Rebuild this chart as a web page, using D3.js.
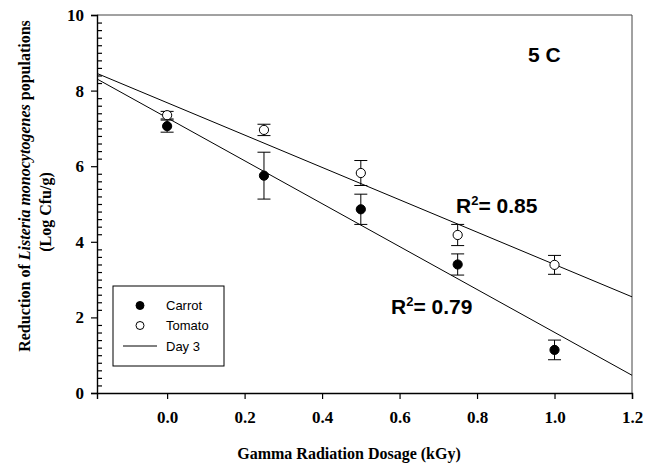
<!DOCTYPE html>
<html>
<head>
<meta charset="utf-8">
<script src="https://cdn.jsdelivr.net/npm/d3@7"></script>
<style>
  body { margin: 0; background: #fff; }
  svg { display: block; }
</style>
</head>
<body>
<svg id="chart" width="656" height="471"></svg>
<script>
// Data
var doses = [0, 0.25, 0.5, 0.75, 1.0];
var carrot = [7.06, 5.75, 4.86, 3.40, 1.14];
var carrotErr = [0.16, 0.62, 0.40, 0.28, 0.26];
var tomato = [7.35, 6.96, 5.82, 4.18, 3.39];
var tomatoErr = [0.10, 0.15, 0.33, 0.28, 0.25];
var xTicks = [0, 0.2, 0.4, 0.6, 0.8, 1.0, 1.2];
var yTicks = [0, 2, 4, 6, 8, 10];
var legendLabels = ["Carrot", "Tomato", "Day 3"];

var w = 656, h = 471;
var margin = { left: 97, right: 24, top: 15, bottom: 78 };

var svg = d3.select("#chart");
var serif = "'Liberation Serif', 'Times New Roman', serif";
var sans = "'Liberation Sans', Arial, sans-serif";

var xScale = d3.scaleLinear()
    .domain([-0.181, 1.2])
    .range([margin.left, w - margin.right]);

var yScale = d3.scaleLinear()
    .domain([0, 10])
    .range([h - margin.bottom, margin.top]);

// simple least squares fit
function fit(xs, ys) {
    var mx = d3.mean(xs), my = d3.mean(ys);
    var num = d3.sum(xs, function (x, i) { return (x - mx) * (ys[i] - my); });
    var den = d3.sum(xs, function (x) { return (x - mx) * (x - mx); });
    var b = num / den;
    return { a: my - b * mx, b: b };
}

// frame (top and right)
svg.append("path")
    .attr("d", "M" + xScale(-0.181) + "," + yScale(10) + "H" + xScale(1.2) + "V" + yScale(0))
    .attr("fill", "none")
    .attr("stroke", "#444")
    .attr("stroke-width", 1);

// y axis, major ticks outward, minor ticks inward
svg.append("g")
    .attr("transform", "translate(" + margin.left + ",0)")
    .call(d3.axisLeft(yScale).tickValues(yTicks).tickSize(6).tickPadding(7).tickFormat(d3.format("d")));

var minor = d3.range(0, 10.01, 0.2).filter(function (v) { return Math.abs(v / 2 - Math.round(v / 2)) > 0.01; });
svg.append("g")
    .attr("transform", "translate(" + margin.left + ",0)")
    .call(d3.axisRight(yScale).tickValues(minor).tickSize(5).tickFormat(""))
    .call(function (g) { g.select(".domain").remove(); });

svg.append("g")
    .attr("transform", "translate(0," + (h - margin.bottom) + ")")
    .call(d3.axisBottom(xScale).tickValues(xTicks).tickSize(6).tickPadding(12).tickFormat(d3.format(".1f")));

svg.selectAll(".domain").attr("stroke", "#000").attr("stroke-width", 1.4);
svg.selectAll(".tick line").attr("stroke", "#000").attr("stroke-width", 1.2);
svg.selectAll(".tick text")
    .attr("font-family", serif)
    .attr("font-weight", "bold")
    .attr("font-size", 17)
    .attr("fill", "#000");

// regression lines
var line = d3.line()
    .x(function (d) { return xScale(d[0]); })
    .y(function (d) { return yScale(d[1]); });

[carrot, tomato].forEach(function (ys) {
    var f = fit(doses, ys);
    var ends = xScale.domain().map(function (x) { return [x, f.a + f.b * x]; });
    svg.append("path")
        .attr("d", line(ends))
        .attr("fill", "none")
        .attr("stroke", "#000")
        .attr("stroke-width", 1);
});

// error bars + markers
function drawSeries(vals, errs, fill) {
    var g = svg.append("g");
    var pts = doses.map(function (x, i) { return { x: x, y: vals[i], e: errs[i] }; });
    var bars = g.selectAll(".err").data(pts).enter().append("g").attr("class", "err");
    bars.append("line")
        .attr("x1", function (d) { return xScale(d.x); })
        .attr("x2", function (d) { return xScale(d.x); })
        .attr("y1", function (d) { return yScale(d.y + d.e); })
        .attr("y2", function (d) { return yScale(d.y - d.e); });
    bars.append("line")
        .attr("x1", function (d) { return xScale(d.x) - 6.5; })
        .attr("x2", function (d) { return xScale(d.x) + 6.5; })
        .attr("y1", function (d) { return yScale(d.y + d.e); })
        .attr("y2", function (d) { return yScale(d.y + d.e); });
    bars.append("line")
        .attr("x1", function (d) { return xScale(d.x) - 6.5; })
        .attr("x2", function (d) { return xScale(d.x) + 6.5; })
        .attr("y1", function (d) { return yScale(d.y - d.e); })
        .attr("y2", function (d) { return yScale(d.y - d.e); });
    bars.selectAll("line").attr("stroke", "#000").attr("stroke-width", 1);
    g.selectAll("circle").data(pts).enter().append("circle")
        .attr("cx", function (d) { return xScale(d.x); })
        .attr("cy", function (d) { return yScale(d.y); })
        .attr("r", 4.6)
        .attr("fill", fill)
        .attr("stroke", "#000")
        .attr("stroke-width", 1);
}
drawSeries(tomato, tomatoErr, "#fff");
drawSeries(carrot, carrotErr, "#000");

// annotations
svg.append("text")
    .attr("x", 528).attr("y", 62)
    .attr("font-family", sans).attr("font-weight", "bold").attr("font-size", 21)
    .text("5 C");

function r2Label(x, y, val) {
    var t = svg.append("text")
        .attr("x", x).attr("y", y)
        .attr("font-family", sans).attr("font-weight", "bold").attr("font-size", 21);
    t.append("tspan").text("R");
    t.append("tspan").attr("font-size", 13).attr("dy", -8).text("2");
    t.append("tspan").attr("dy", 8).text("= " + val);
}
r2Label(456, 213, "0.85");
r2Label(391, 314, "0.79");

// legend
var lg = svg.append("g").attr("transform", "translate(113,286)");
lg.append("rect")
    .attr("width", 111).attr("height", 80)
    .attr("fill", "#fff").attr("stroke", "#000").attr("stroke-width", 1);
var rows = [19.5, 39.5, 60];
lg.append("circle").attr("cx", 27).attr("cy", rows[0]).attr("r", 4).attr("fill", "#000").attr("stroke", "#000");
lg.append("circle").attr("cx", 27).attr("cy", rows[1]).attr("r", 4).attr("fill", "#fff").attr("stroke", "#000");
lg.append("line").attr("x1", 10).attr("x2", 44).attr("y1", rows[2]).attr("y2", rows[2]).attr("stroke", "#000");
lg.selectAll(".lbl").data(legendLabels).enter().append("text")
    .attr("x", 53)
    .attr("y", function (d, i) { return rows[i] + 4.5; })
    .attr("font-family", sans).attr("font-size", 13)
    .text(function (d) { return d; });

// axis titles
svg.append("text")
    .attr("x", 349).attr("y", 459)
    .attr("text-anchor", "middle")
    .attr("font-family", serif).attr("font-weight", "bold").attr("font-size", 16)
    .text("Gamma Radiation Dosage (kGy)");

var yt = svg.append("text")
    .attr("transform", "translate(30,186) rotate(-90)")
    .attr("text-anchor", "middle")
    .attr("font-family", serif).attr("font-weight", "bold").attr("font-size", 16);
yt.append("tspan").text("Reduction of ");
yt.append("tspan").attr("font-style", "italic").text("Listeria monocytogenes");
yt.append("tspan").text(" populations");

svg.append("text")
    .attr("transform", "translate(51,212) rotate(-90)")
    .attr("text-anchor", "middle")
    .attr("font-family", serif).attr("font-weight", "bold").attr("font-size", 16)
    .text("(Log Cfu/g)");
</script>
</body>
</html>
